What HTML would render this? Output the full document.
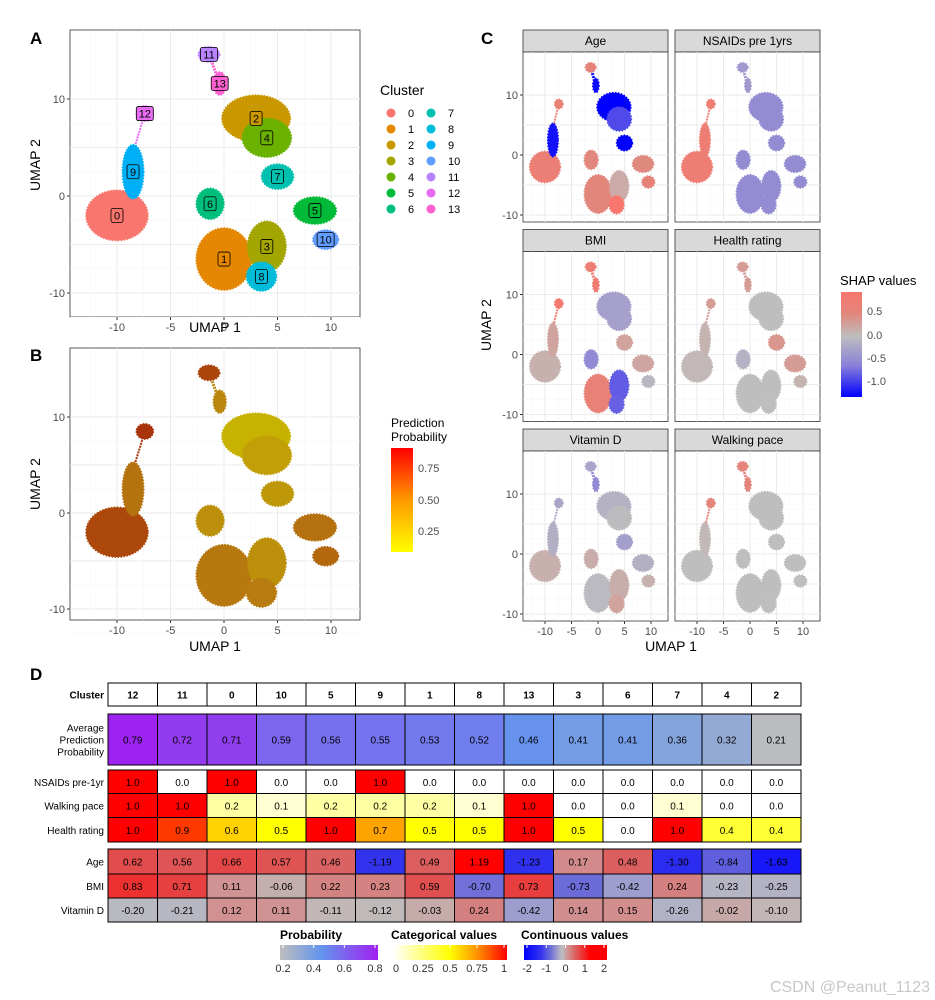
<!DOCTYPE html>
<html><head><meta charset="utf-8">
<style>
body{margin:0;background:#fff;font-family:"Liberation Sans","DejaVu Sans",sans-serif;}
svg{position:absolute;left:0;top:0}
</style></head>
<body>
<svg id="fig" width="935" height="1000" viewBox="0 0 935 1000" xmlns="http://www.w3.org/2000/svg" font-family="Liberation Sans, DejaVu Sans, sans-serif"></svg>
<script>
// ---------- data ----------
const clusterIds   = [0,1,2,3,4,5,6,7,8,9,10,11,12,13];
const clusterX     = [-10,0,3,4,4,8.5,-1.3,5,3.5,-8.5,9.5,-1.4,-7.4,-0.4];
const clusterY     = [-2,-6.5,8,-5.2,6,-1.5,-0.8,2,-8.3,2.5,-4.5,14.6,8.5,11.6];
const clusterRx    = [2.9,2.6,3.2,1.8,2.3,2.0,1.3,1.5,1.4,1.0,1.2,1.0,0.8,0.6];
const clusterRy    = [2.6,3.2,2.4,2.6,2.0,1.4,1.6,1.3,1.5,2.8,1.0,0.8,0.8,1.2];
const clusterColors= ["#F8766D","#E58700","#C99800","#A3A500","#6BB100","#00BA38","#00BF7D","#00C0AF","#00BCD8","#00B0F6","#619CFF","#B983FF","#E76BF3","#FD61D1"];
const clusterProb  = [0.71,0.53,0.21,0.41,0.32,0.56,0.41,0.36,0.52,0.55,0.59,0.72,0.79,0.46];
const shapAge      = [0.66,0.49,-1.63,0.17,-0.84,0.46,0.48,-1.30,1.19,-1.19,0.57,0.56,0.62,-1.23];
const shapNSAID    = [0.7,-0.4,-0.4,-0.4,-0.4,-0.4,-0.4,-0.4,-0.4,0.7,-0.4,-0.3,0.7,-0.3];
const shapBMI      = [0.11,0.59,-0.25,-0.73,-0.23,0.22,-0.42,0.24,-0.70,0.23,-0.06,0.71,0.83,0.73];
const shapHealth   = [0.05,0.0,0.0,0.0,0.0,0.3,-0.1,0.35,0.0,0.1,0.1,0.3,0.3,0.3];
const shapVitD     = [0.12,-0.03,-0.10,0.14,-0.02,-0.11,0.15,-0.26,0.24,-0.12,0.11,-0.21,-0.20,-0.42];
const shapWalk     = [0.0,0.0,0.0,0.0,0.0,0.0,0.0,0.0,0.0,0.05,0.0,0.5,0.5,0.5];
const tableClusters= ["12","11","0","10","5","9","1","8","13","3","6","7","4","2"];
const tableProb    = [0.79,0.72,0.71,0.59,0.56,0.55,0.53,0.52,0.46,0.41,0.41,0.36,0.32,0.21];
const tableNSAID   = [1.0,0.0,1.0,0.0,0.0,1.0,0.0,0.0,0.0,0.0,0.0,0.0,0.0,0.0];
const tableWalk    = [1.0,1.0,0.2,0.1,0.2,0.2,0.2,0.1,1.0,0.0,0.0,0.1,0.0,0.0];
const tableHealth  = [1.0,0.9,0.6,0.5,1.0,0.7,0.5,0.5,1.0,0.5,0.0,1.0,0.4,0.4];
const tableAge     = [0.62,0.56,0.66,0.57,0.46,-1.19,0.49,1.19,-1.23,0.17,0.48,-1.30,-0.84,-1.63];
const tableBMI     = [0.83,0.71,0.11,-0.06,0.22,0.23,0.59,-0.70,0.73,-0.73,-0.42,0.24,-0.23,-0.25];
const tableVitD    = [-0.20,-0.21,0.12,0.11,-0.11,-0.12,-0.03,0.24,-0.42,0.14,0.15,-0.26,-0.02,-0.10];
const umapTicks    = [-10,-5,0,5,10];

const NS="http://www.w3.org/2000/svg";
const svg=document.getElementById('fig');
function el(tag,attrs,parent,text){const e=document.createElementNS(NS,tag);for(const k in attrs)e.setAttribute(k,attrs[k]);if(text!==undefined)e.textContent=text;(parent||svg).appendChild(e);return e;}
function lin(d0,d1,r0,r1){return v=>r0+(v-d0)/(d1-d0)*(r1-r0);}
function hex(c){return [parseInt(c.slice(1,3),16),parseInt(c.slice(3,5),16),parseInt(c.slice(5,7),16)];}
function grad(stops,v){
  if(v<=stops[0][0])return stops[0][1]; if(v>=stops[stops.length-1][0])return stops[stops.length-1][1];
  for(let i=0;i<stops.length-1;i++){const[a,ca]=stops[i],[b,cb]=stops[i+1];if(v>=a&&v<=b){const t=(v-a)/(b-a),A=hex(ca),B=hex(cb);return 'rgb('+A.map((x,j)=>Math.round(x+(B[j]-x)*t)).join(',')+')';}}
}
const probStops=[[0.2,"#bebebe"],[0.45,"#6495ed"],[0.8,"#a020f0"]];
const catStops=[[0,"#ffffff"],[0.5,"#ffff00"],[0.75,"#ff8c00"],[1,"#ff0000"]];
const contStops=[[-2,"#0000ff"],[-1.2,"#3232ee"],[-0.7,"#7070d8"],[-0.35,"#a8a8cc"],[-0.15,"#bebebe"],[0.1,"#d09494"],[0.5,"#dc5c5c"],[1.2,"#ff0000"],[2,"#ff0000"]];
const shapStops=[[-1.3,"#0000ff"],[-0.5,"#8a80d8"],[0,"#bebebe"],[0.5,"#e3857a"],[0.9,"#f8766d"]];
const bStops=[[0.2,"#c8b400"],[0.5,"#b88010"],[0.8,"#a8300a"]];

function umapPanel(name,x0,y0,w,h,xs,ys,colorFn,opts){
  const g=el('g',{});
  el('rect',{x:x0,y:y0,width:w,height:h,fill:'#fff',stroke:'#333','stroke-width':0.8},g);
  const grid=el('g',{},g);
  umapTicks.forEach(t=>{
    el('line',{x1:xs(t),x2:xs(t),y1:y0,y2:y0+h,stroke:'#ebebeb','stroke-width':1},grid);
    el('line',{x1:x0,x2:x0+w,y1:ys(t),y2:ys(t),stroke:'#ebebeb','stroke-width':1},grid);
    el('line',{x1:xs(t-2.5),x2:xs(t-2.5),y1:y0,y2:y0+h,stroke:'#f5f5f5','stroke-width':0.5},grid);
    el('line',{x1:x0,x2:x0+w,y1:ys(t-2.5),y2:ys(t-2.5),stroke:'#f5f5f5','stroke-width':0.5},grid);
  });
  const c=el('g',{},g);
  el('line',{x1:xs(clusterX[12]),y1:ys(clusterY[12]),x2:xs(clusterX[9]),y2:ys(clusterY[9]+2),stroke:colorFn(12),'stroke-width':2,'stroke-dasharray':'2 1'},c);
  el('line',{x1:xs(clusterX[11]),y1:ys(clusterY[11]),x2:xs(clusterX[13]),y2:ys(clusterY[13]),stroke:colorFn(13),'stroke-width':3,'stroke-dasharray':'2 1'},c);
  clusterIds.forEach(i=>{
    const e=el('ellipse',{cx:xs(clusterX[i]),cy:ys(clusterY[i]),rx:Math.abs(xs(clusterRx[i])-xs(0)),ry:Math.abs(ys(clusterRy[i])-ys(0)),fill:colorFn(i),stroke:colorFn(i),'stroke-width':1.5,'stroke-dasharray':'1.5 1.5'},g);
    
    
  });
  if(opts.labels){clusterIds.forEach(i=>{
    const lx=xs(clusterX[i]),ly=ys(clusterY[i]);const wd=i>9?17:12;
    const lb=el('g',{},g);
    
    
    el('rect',{x:lx-wd/2,y:ly-7,width:wd,height:14,rx:2,fill:colorFn(i),stroke:'#000','stroke-width':0.8},lb);
    el('text',{x:lx,y:ly+4,'text-anchor':'middle','font-size':11,fill:'#000'},lb,String(i));
  });}
  if(opts.xaxis){const a=el('g',{},g);
    umapTicks.forEach(t=>{el('line',{x1:xs(t),x2:xs(t),y1:y0+h,y2:y0+h+3,stroke:'#333'},a);el('text',{x:xs(t),y:y0+h+14,'text-anchor':'middle','font-size':11,fill:'#4d4d4d'},a,String(t));});}
  if(opts.yaxis){const a=el('g',{},g);
    [-10,0,10].forEach(t=>{el('line',{x1:x0-3,x2:x0,y1:ys(t),y2:ys(t),stroke:'#333'},a);el('text',{x:x0-5,y:ys(t)+4,'text-anchor':'end','font-size':11,fill:'#4d4d4d'},a,String(t));});}
  return g;
}
function panelLetter(t,x,y){el('text',{x:x,y:y,'font-size':17,'font-weight':'bold',},svg,t);}

panelLetter('A',30,44);
umapPanel('panel-a-umap',70,30,290,287,lin(0,10,224,331),lin(0,10,196,99),i=>clusterColors[i],{labels:true,xaxis:true,yaxis:true});
el('text',{x:215,y:332,'text-anchor':'middle','font-size':14,},svg,'UMAP 1');
el('text',{x:40,y:165,'text-anchor':'middle','font-size':14,transform:'rotate(-90 40 165)',},svg,'UMAP 2');
const legA=el('g',{});
el('text',{x:380,y:95,'font-size':14},legA,'Cluster');
clusterIds.forEach(i=>{const col=i<7?0:1,row=i%7;const cx=391+col*40,cy=113+row*16;
  const le=el('g',{},legA);
  
  
  el('circle',{cx:cx,cy:cy,r:4.5,fill:clusterColors[i]},le);el('text',{x:cx+17,y:cy+4,'font-size':11},le,String(i));});

panelLetter('B',30,361);
umapPanel('panel-b-umap',70,348,290,272,lin(0,10,224,331),lin(0,10,513,417),i=>grad(bStops,clusterProb[i]),{labels:false,xaxis:true,yaxis:true});
el('text',{x:215,y:651,'text-anchor':'middle','font-size':14,},svg,'UMAP 1');
el('text',{x:40,y:484,'text-anchor':'middle','font-size':14,transform:'rotate(-90 40 484)',},svg,'UMAP 2');
const legB=el('g',{});
el('text',{x:391,y:427,'font-size':12},legB,'Prediction');
el('text',{x:391,y:441,'font-size':12},legB,'Probability');
const defs=el('defs',{});
const lgB=el('linearGradient',{id:'gB',x1:0,y1:1,x2:0,y2:0},defs);
[[0,'#ffff00'],[0.5,'#ff9900'],[1,'#ff0000']].forEach(s=>el('stop',{offset:s[0],'stop-color':s[1]},lgB));
el('rect',{x:391,y:448,width:22,height:104,fill:'url(#gB)'},legB);
[[0.75,468],[0.50,500],[0.25,531]].forEach(t=>{el('text',{x:418,y:t[1]+4,'font-size':11,fill:'#4d4d4d'},legB,t[0].toFixed(2));});

panelLetter('C',481,44);
const facets=[['Age',shapAge],['NSAIDs pre 1yrs',shapNSAID],['BMI',shapBMI],['Health rating',shapHealth],['Vitamin D',shapVitD],['Walking pace',shapWalk]];
facets.forEach((f,k)=>{const col=k%2,row=Math.floor(k/2);const x0=523+col*152,ys0=30+row*199.5;
  const strip=el('g',{});
  el('rect',{x:x0,y:ys0,width:145,height:22,fill:'#d9d9d9',stroke:'#333','stroke-width':0.8},strip);
  el('text',{x:x0+72.5,y:ys0+15,'text-anchor':'middle','font-size':12},strip,f[0]);
  const vals=f[1];
  umapPanel('facet-'+f[0].toLowerCase().replace(/ /g,'-'),x0,ys0+22,145,170,lin(0,10,x0+75,x0+128),lin(0,10,ys0+125,ys0+65),i=>grad(shapStops,vals[i]),{labels:false,xaxis:row==2,yaxis:col==0});
});
el('text',{x:671,y:651,'text-anchor':'middle','font-size':14,},svg,'UMAP 1');
el('text',{x:491,y:325,'text-anchor':'middle','font-size':14,transform:'rotate(-90 491 325)',},svg,'UMAP 2');
const legC=el('g',{});
el('text',{x:840,y:285,'font-size':13},legC,'SHAP values');
const lgC=el('linearGradient',{id:'gC',x1:0,y1:1,x2:0,y2:0},defs);
[[0,'#0000ff'],[0.3,'#8a80d8'],[0.58,'#bebebe'],[0.8,'#e3857a'],[1,'#f8766d']].forEach(s=>el('stop',{offset:s[0],'stop-color':s[1]},lgC));
el('rect',{x:841,y:292,width:21,height:105,fill:'url(#gC)'},legC);
[['0.5',311],['0.0',335],['-0.5',358],['-1.0',381]].forEach(t=>el('text',{x:867,y:t[1]+4,'font-size':11,fill:'#4d4d4d'},legC,t[0]));

panelLetter('D',30,680);
const tx0=108,cw=49.5;
const tbl=el('g',{});
function row(name,label,y,h,vals,colorFn,fmt,bold){
  const r=el('g',{},tbl);
  
  
  if(Array.isArray(label)){label.forEach((l,j)=>el('text',{x:104,y:y+h/2+4+(j-(label.length-1)/2)*12,'text-anchor':'end','font-size':10},r,l));}
  else el('text',{x:104,y:y+h/2+4,'text-anchor':'end','font-size':10,'font-weight':bold?'bold':'normal'},r,label);
  vals.forEach((v,i)=>{el('rect',{x:tx0+i*cw,y:y,width:cw,height:h,fill:colorFn(v),stroke:'#000','stroke-width':1},r);
    el('text',{x:tx0+i*cw+cw/2,y:y+h/2+4,'text-anchor':'middle','font-size':10,'font-weight':bold?'bold':'normal'},r,fmt(v));});
}
row('cluster-header-row','Cluster',683,23,tableClusters,()=>'#fff',v=>v,true);
row('probability-row',['Average','Prediction','Probability'],714,51,tableProb,v=>grad(probStops,v),v=>v.toFixed(2));
row('nsaids-row','NSAIDs pre-1yr',770,23.5,tableNSAID,v=>grad(catStops,v),v=>v.toFixed(1));
row('walking-pace-row','Walking pace',793.5,24,tableWalk,v=>grad(catStops,v>0.5?v:v*0.9),v=>v.toFixed(1));
row('health-rating-row','Health rating',817.5,24.5,tableHealth,v=>grad(catStops,v),v=>v.toFixed(1));
row('age-row','Age',849,25,tableAge,v=>grad(contStops,v),v=>v.toFixed(2));
row('bmi-row','BMI',874,24,tableBMI,v=>grad(contStops,v),v=>v.toFixed(2));
row('vitamin-d-row','Vitamin D',898,24,tableVitD,v=>grad(contStops,v),v=>v.toFixed(2));

function legBar(name,title,tx,x0,x1,stops,d0,d1,ticks){
  const g=el('g',{});
  el('text',{x:tx,y:939,'font-size':12,'font-weight':'bold'},g,title);
  const id='g'+name;const lg=el('linearGradient',{id:id,x1:0,y1:0,x2:1,y2:0},defs);
  stops.forEach(s=>el('stop',{offset:Math.max(0,Math.min(1,(s[0]-d0)/(d1-d0))),'stop-color':s[1]},lg));
  el('rect',{x:x0,y:945,width:x1-x0,height:15,fill:'url(#'+id+')'},g);
  const sc=lin(d0,d1,x0+3,x1-3);
  ticks.forEach(t=>{el('line',{x1:sc(t),x2:sc(t),y1:945,y2:948,stroke:'#fff'},g);el('text',{x:sc(t),y:972,'text-anchor':'middle','font-size':11,fill:'#333'},g,String(t));});
}
legBar('probability-color-legend','Probability',280,280,378,probStops,0.2,0.8,[0.2,0.4,0.6,0.8]);
legBar('categorical-color-legend','Categorical values',391,393,507,catStops,0,1,[0,0.25,0.5,0.75,1]);
legBar('continuous-color-legend','Continuous values',521,524,607,contStops,-2,2,[-2,-1,0,1,2]);

el('text',{x:930,y:992,'text-anchor':'end','font-size':16,fill:'#c8c8c8',},svg,'CSDN @Peanut_1123');
</script>
</body></html>
